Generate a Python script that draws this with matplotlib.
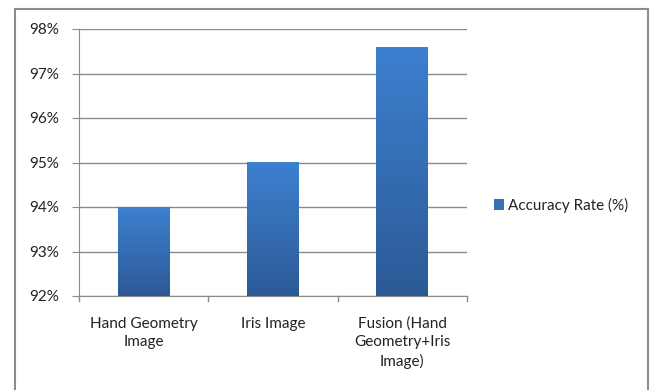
import numpy as np
import matplotlib.pyplot as plt
from matplotlib.patches import Rectangle
from matplotlib.lines import Line2D
from matplotlib.colors import LinearSegmentedColormap

categories = ['Hand Geometry\nImage', 'Iris Image', 'Fusion (Hand\nGeometry+Iris\nImage)']
accuracy = [94.0, 95.0, 97.6]
y_ticks = [92, 93, 94, 95, 96, 97, 98]
series_name = 'Accuracy Rate (%)'

plt.rcParams['font.family'] = ['Lato', 'DejaVu Sans']

W, H = 654, 390
fig = plt.figure(figsize=(W / 100, H / 100), dpi=100)
ax = fig.add_axes([79 / W, 1 - 296 / H, (467 - 79) / W, (296 - 29) / H])

# vertical blue gradient used for every bar
grad = LinearSegmentedColormap.from_list('bar', ['#2c5a96', '#3d80d0'])
x = np.arange(len(categories))
bars = ax.bar(x, accuracy, width=0.4, bottom=0, color='none', zorder=3)
for b, v in zip(bars, accuracy):
    x0 = b.get_x()
    img = ax.imshow(np.linspace(0, 1, 256).reshape(-1, 1), cmap=grad, origin='lower',
                    aspect='auto', extent=[x0, x0 + b.get_width(), 92, v], zorder=3)
    img.set_clip_path(b)

ax.set_xlim(-0.5, 2.5)
ax.set_ylim(92, 98)
ax.set_yticks(y_ticks)
ax.set_yticklabels([f'{t}%' for t in y_ticks])
ax.set_xticks(x)
ax.set_xticklabels(categories, linespacing=1.38)
ax.grid(axis='y', color='#8a8a8a', linewidth=1, zorder=0)

for s in ['top', 'right']:
    ax.spines[s].set_visible(False)
for s in ['left', 'bottom']:
    ax.spines[s].set_color('#8a8a8a')
ax.tick_params(axis='y', length=5, color='#8a8a8a', labelsize=11, pad=9, labelcolor='#222222')
ax.tick_params(axis='x', length=0, labelsize=11, pad=15, labelcolor='#222222')

# category boundary ticks below the x axis
for b in [-0.5, 0.5, 1.5, 2.5]:
    ax.plot([b, b], [92, 91.88], color='#8a8a8a', lw=1, clip_on=False, zorder=1)

# legend
fig.patches.append(Rectangle((494 / W, 1 - 210 / H), 10 / W, 11 / H, transform=fig.transFigure,
                             facecolor='#3470b8', edgecolor='none'))
fig.text(508 / W, 1 - 205 / H, series_name, fontsize=11, va='center', color='#222222')

# chart frame
fc = '#8c8c8c'
fig.lines.append(Line2D([15 / W, 15 / W], [0, 1 - 9 / H], transform=fig.transFigure, color=fc, lw=1.5))
fig.lines.append(Line2D([15 / W, 648 / W], [1 - 9 / H, 1 - 9 / H], transform=fig.transFigure, color=fc, lw=1.5))
fig.lines.append(Line2D([648 / W, 648 / W], [0, 1 - 9 / H], transform=fig.transFigure, color=fc, lw=1.5))

fig.savefig('out.png', dpi=100)
